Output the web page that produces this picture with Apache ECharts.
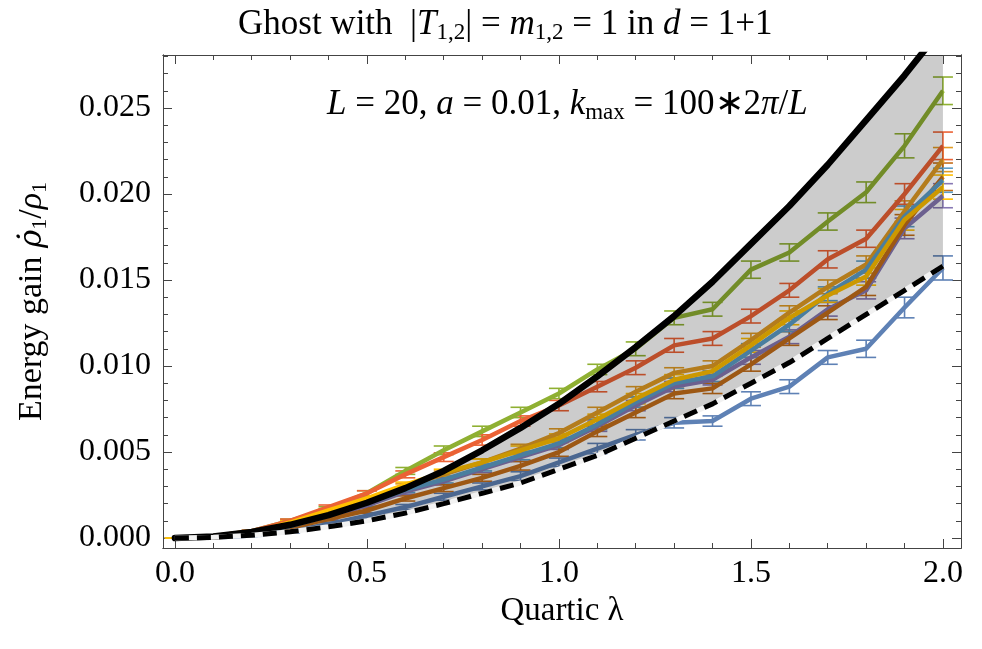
<!DOCTYPE html>
<html><head><meta charset="utf-8">
<script src="https://cdn.jsdelivr.net/npm/echarts@6/dist/echarts.min.js"></script>
<style>html,body{margin:0;padding:0;background:#fff}#c{width:982px;height:649px}</style>
</head><body><div id="c"></div>
<script>
const lambda = [0,0.1,0.2,0.3,0.4,0.5,0.6,0.7,0.8,0.9,1.0,1.1,1.2,1.3,1.4,1.5,1.6,1.7,1.8,1.9,2.0];

const blueVals      = [0,0.00003,0.00015,0.0004,0.0008,0.0013,0.0018,0.0024,0.0030,0.0036,0.0044,0.0052,0.0060,0.0067,0.0068,0.0081,0.0088,0.0105,0.0110,0.0134,0.0157];
const orangeVals    = [0,0.00006,0.0003,0.0009,0.0015,0.0022,0.0030,0.0037,0.0044,0.0052,0.0061,0.0073,0.0085,0.0096,0.0100,0.0115,0.0131,0.0146,0.0159,0.0190,0.0220];
const greenVals     = [0,0.0001,0.0004,0.0010,0.0017,0.0026,0.0039,0.0051,0.0062,0.0073,0.0084,0.0098,0.0110,0.0128,0.0133,0.0156,0.0166,0.0184,0.0201,0.0228,0.0260];
const redVals       = [0,0.0001,0.0004,0.0010,0.0018,0.0026,0.0037,0.0047,0.0057,0.0068,0.0077,0.0088,0.0099,0.0112,0.0116,0.0129,0.0144,0.0162,0.0174,0.0200,0.0228];
const purpleVals    = [0,0.00004,0.0002,0.0007,0.0012,0.0019,0.0027,0.0033,0.0040,0.0047,0.0054,0.0065,0.0077,0.0088,0.0092,0.0105,0.0117,0.0133,0.0144,0.0180,0.0199];
const brownVals     = [0,0.00003,0.0002,0.0006,0.0011,0.0016,0.0023,0.0029,0.0035,0.0042,0.0050,0.0062,0.0073,0.0084,0.0087,0.0101,0.0116,0.0131,0.0146,0.0182,0.0210];
const lightBlueVals = [0,0.00004,0.0002,0.0007,0.0013,0.0020,0.0028,0.0034,0.0041,0.0048,0.0055,0.0066,0.0079,0.0090,0.0094,0.0109,0.0124,0.0142,0.0156,0.0187,0.0208];
const yellowVals    = [0,0.00006,0.0003,0.0009,0.0016,0.0023,0.0031,0.0038,0.0044,0.0051,0.0058,0.0069,0.0081,0.0092,0.0097,0.0112,0.0128,0.0141,0.0152,0.0185,0.0204];

const blueErr      = [0,0.00003,0.00005,0.0001,0.0001,0.00015,0.00015,0.0002,0.0002,0.00025,0.00025,0.0003,0.0003,0.0003,0.0003,0.0004,0.0004,0.0004,0.0005,0.0006,0.0007];
const orangeErr    = [0,0.00003,0.00005,0.0001,0.0001,0.00015,0.00015,0.0002,0.0002,0.00025,0.00025,0.0003,0.0003,0.0003,0.0003,0.0004,0.0004,0.0004,0.0005,0.0006,0.0007];
const greenErr     = [0,0.00003,0.00005,0.0001,0.00012,0.00015,0.0002,0.00025,0.0003,0.0003,0.0003,0.0003,0.0004,0.0004,0.0004,0.0005,0.0005,0.0005,0.0006,0.0007,0.0008];
const redErr       = [0,0.00003,0.00005,0.0001,0.00012,0.00015,0.0002,0.00025,0.0003,0.0003,0.0003,0.0003,0.0004,0.0004,0.0004,0.0004,0.0004,0.0005,0.0005,0.0006,0.0008];
const purpleErr    = [0,0.00003,0.00005,0.0001,0.0001,0.00015,0.00015,0.0002,0.0002,0.00025,0.00025,0.0003,0.0003,0.0003,0.0003,0.0004,0.0004,0.0004,0.0005,0.0006,0.0007];
const brownErr     = [0,0.00003,0.00005,0.0001,0.0001,0.00015,0.00015,0.0002,0.0002,0.00025,0.00025,0.0003,0.0003,0.0003,0.0003,0.0004,0.0004,0.0004,0.0005,0.0006,0.0008];
const lightBlueErr = [0,0.00003,0.00005,0.0001,0.0001,0.00015,0.00015,0.0002,0.0002,0.00025,0.00025,0.0003,0.0003,0.0003,0.0003,0.0004,0.0004,0.0004,0.0005,0.0006,0.0007];
const yellowErr    = [0,0.00003,0.00005,0.0001,0.0001,0.00015,0.00015,0.0002,0.0002,0.00025,0.00025,0.0003,0.0003,0.0003,0.0003,0.0004,0.0004,0.0004,0.0005,0.0006,0.0007];

const upperCurve = [0,0.00009,0.00035,0.00077,0.00133,0.00205,0.0029,0.0039,0.0051,0.0064,0.0078,0.0094,0.0111,0.0129,0.0149,0.0171,0.0193,0.0217,0.0243,0.0269,0.0297];
const lowerCurve = [0,0.00004,0.00016,0.00036,0.00065,0.0010,0.00145,0.0020,0.0026,0.0032,0.0040,0.0048,0.0058,0.0068,0.0078,0.0090,0.0102,0.0116,0.0130,0.0144,0.0158];

const xMajorTicks = [0,0.5,1.0,1.5,2.0];
const xMinorTicks = [0.1,0.2,0.3,0.4,0.6,0.7,0.8,0.9,1.1,1.2,1.3,1.4,1.6,1.7,1.8,1.9];
const yMajorTicks = [0,0.005,0.010,0.015,0.020,0.025];
const yMinorTicks = [0.001,0.002,0.003,0.004,0.006,0.007,0.008,0.009,0.011,0.012,0.013,0.014,0.016,0.017,0.018,0.019,0.021,0.022,0.023,0.024,0.026,0.027,0.028];

const seriesDefs = [
  {name:'s1', vals: blueVals, err: blueErr, color:'#5E81B5'},
  {name:'s2', vals: orangeVals, err: orangeErr, color:'#E19C24'},
  {name:'s3', vals: greenVals, err: greenErr, color:'#8FB032'},
  {name:'s4', vals: redVals, err: redErr, color:'#EB6235'},
  {name:'s5', vals: purpleVals, err: purpleErr, color:'#8778B3'},
  {name:'s6', vals: brownVals, err: brownErr, color:'#C56E1A'},
  {name:'s7', vals: lightBlueVals, err: lightBlueErr, color:'#5D9EC7'},
  {name:'s8', vals: yellowVals, err: yellowErr, color:'#FFBF00'}
];

const FONT = 'Liberation Serif';
const XMIN = -0.031, XMAX = 2.047, YMIN = -0.00058, YMAX = 0.02808;
const frameColor = '#444';

function xAx(pos, ticks, len, showLabel, extra) {
  return Object.assign({
    type:'value', gridIndex:0, position:pos, min:XMIN, max:XMAX,
    axisLine:{show:true, onZero:false, lineStyle:{color:frameColor, width:1}},
    axisTick:{show:true, inside:true, length:len, customValues:ticks, lineStyle:{color:frameColor, width:1}},
    axisLabel:{show:showLabel, customValues:ticks, formatter:v=>Number(v).toFixed(1), fontFamily:FONT, fontSize:32, color:'#000', margin:10},
    splitLine:{show:false}
  }, extra||{});
}
function yAx(pos, ticks, len, showLabel, extra) {
  return Object.assign({
    type:'value', gridIndex:0, position:pos, min:YMIN, max:YMAX,
    axisLine:{show:true, onZero:false, lineStyle:{color:frameColor, width:1}},
    axisTick:{show:true, inside:true, length:len, customValues:ticks, lineStyle:{color:frameColor, width:1}},
    axisLabel:{show:showLabel, customValues:ticks, formatter:v=>Number(v).toFixed(3), fontFamily:FONT, fontSize:32, color:'#000', margin:12},
    splitLine:{show:false}
  }, extra||{});
}

const richStyles = (big, small) => ({
  n:{fontFamily:FONT, fontSize:big, fontWeight:'normal', color:'#000'},
  i:{fontFamily:FONT, fontSize:big, fontWeight:'normal', fontStyle:'italic', color:'#000'},
  d:{fontFamily:'DejaVu Serif', fontSize:Math.round(big*0.9), fontWeight:'normal', fontStyle:'italic', color:'#000'},
  s:{fontFamily:FONT, fontSize:small, fontWeight:'normal', color:'#000', padding:[Math.round(big*0.45),0,0,0]}
});

const series = [];
seriesDefs.forEach(d => {
  series.push({
    type:'custom', name:d.name+'err', xAxisIndex:0, yAxisIndex:0, z:2, silent:true,
    data: lambda.map((x,i)=>[x, d.vals[i]-d.err[i], d.vals[i]+d.err[i]]),
    renderItem: function(params, api){
      const lo = api.coord([api.value(0), api.value(1)]);
      const hi = api.coord([api.value(0), api.value(2)]);
      const hw = 10;
      const st = {stroke:d.color, lineWidth:1.6};
      return {type:'group', children:[
        {type:'line', shape:{x1:lo[0],y1:lo[1],x2:hi[0],y2:hi[1]}, style:st},
        {type:'line', shape:{x1:lo[0]-hw,y1:lo[1],x2:lo[0]+hw,y2:lo[1]}, style:st},
        {type:'line', shape:{x1:hi[0]-hw,y1:hi[1],x2:hi[0]+hw,y2:hi[1]}, style:st}
      ]};
    }
  });
});
seriesDefs.forEach(d => {
  series.push({
    type:'line', name:d.name, xAxisIndex:0, yAxisIndex:0, z:3, silent:true,
    data: lambda.map((x,i)=>[x, d.vals[i]]),
    showSymbol:false, symbol:'none',
    lineStyle:{color:d.color, width:4.5, join:'round'}
  });
});
// gray band between the two curves
series.push({
  type:'custom', name:'band', z:5, silent:true,
  data:[[0,0]],
  renderItem: function(params, api){
    const pts = [];
    lambda.forEach((x,i)=>pts.push(api.coord([x, upperCurve[i]])));
    for (let i = lambda.length-1; i >= 0; i--) pts.push(api.coord([lambda[i], lowerCurve[i]]));
    const cs = params.coordSys;
    return {type:'polygon', shape:{points:pts}, style:{fill:'rgba(0,0,0,0.2)'},
      clipPath:{type:'rect', shape:{x:cs.x, y:cs.y, width:cs.width, height:cs.height}}};
  }
});
series.push({
  type:'line', name:'upper', z:6, silent:true, symbol:'none',
  data: lambda.map((x,i)=>[x, upperCurve[i]]),
  lineStyle:{color:'#000', width:6.5, cap:'round'}
});
series.push({
  type:'line', name:'lowerWhite', z:6, silent:true, symbol:'none',
  data: lambda.map((x,i)=>[x, lowerCurve[i]]),
  lineStyle:{color:'#f2f2f2', width:5}
});
series.push({
  type:'line', name:'lower', z:7, silent:true, symbol:'none',
  data: lambda.map((x,i)=>[x, lowerCurve[i]]),
  lineStyle:{color:'#000', width:5, type:[14,8]}
});

const option = {
  animation:false,
  backgroundColor:'#fff',
  title:[
    {left:233, top:0,
     text:'{n|Ghost with  |}{i|T}{s|1,2}{n|| = }{i|m}{s|1,2}{n| = 1 in }{i|d}{n| = 1+1}',
     textStyle:{fontWeight:'normal', rich:richStyles(35, 23)}},
    {left:322, top:80,
     text:'{i|L}{n| = 20, }{i|a}{n| = 0.01, }{i|k}{s|max}{n| = 100∗2}{i|π}{n|/}{i|L}',
     textStyle:{fontWeight:'normal', rich:richStyles(35, 23)}}
  ],
  grid:{left:163, top:55, width:798, height:493, containLabel:false},
  xAxis:[
    xAx('bottom', xMajorTicks, 9, true, {name:'Quartic λ', nameLocation:'middle', nameGap:46,
      nameTextStyle:{fontFamily:FONT, fontSize:33, color:'#000'}}),
    xAx('bottom', xMinorTicks, 5, false),
    xAx('top', xMajorTicks, 9, false),
    xAx('top', xMinorTicks, 5, false)
  ],
  yAxis:[
    yAx('left', yMajorTicks, 9, true, {name:'{n|Energy gain }{d|ρ̇}{s|1}{n|/}{i|ρ}{s|1}', nameLocation:'middle', nameGap:112, nameRotate:90,
      nameTextStyle:{rich:richStyles(34, 22)}}),
    yAx('left', yMinorTicks, 5, false),
    yAx('right', yMajorTicks, 9, false),
    yAx('right', yMinorTicks, 5, false)
  ],
  series: series
};
const chart = echarts.init(document.getElementById('c'), null, {renderer:'canvas'});
chart.setOption(option);
</script></body></html>
